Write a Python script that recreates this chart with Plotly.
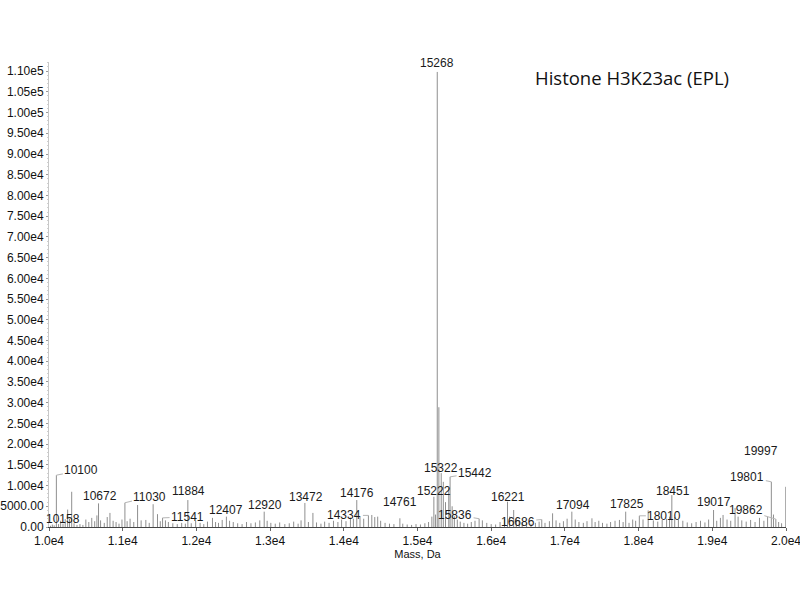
import plotly.graph_objects as go

# ---- data ----
MASS = [10020, 10045, 10070, 10100, 10130, 10158, 10190, 10220, 10253, 10278, 10308, 10340, 10380, 10420, 10460,
        10500, 10540, 10580, 10620, 10650, 10672, 10700, 10750, 10790, 10827, 10870, 10910, 10950, 10990, 11030,
        11060, 11100, 11150, 11202, 11250, 11314, 11360, 11413, 11472, 11510, 11541, 11580, 11620, 11680, 11740,
        11800, 11850, 11884, 11930, 11990, 12050, 12100, 12150, 12218, 12260, 12300, 12350, 12407, 12450, 12500,
        12560, 12620, 12680, 12740, 12800, 12860, 12920, 12960, 13010, 13070, 13130, 13200, 13260, 13320, 13380,
        13420, 13472, 13520, 13581, 13630, 13690, 13740, 13800, 13860, 13920, 13970, 14030, 14090, 14130, 14176,
        14220, 14270, 14334, 14380, 14420, 14460, 14500, 14560, 14620, 14680, 14761, 14800, 14860, 14920, 14980,
        15040, 15100, 15150, 15195, 15222, 15245, 15268, 15290, 15322, 15350, 15380, 15424, 15442, 15470, 15500,
        15540, 15580, 15630, 15680, 15730, 15780, 15836, 15880, 15940, 16000, 16060, 16120, 16180, 16221, 16250,
        16305, 16340, 16380, 16420, 16480, 16540, 16600, 16650, 16686, 16730, 16790, 16833, 16880, 16930, 16980,
        17030, 17094, 17140, 17190, 17250, 17300, 17367, 17410, 17460, 17510, 17570, 17620, 17680, 17740, 17790,
        17825, 17870, 17920, 17960, 18010, 18060, 18130, 18200, 18260, 18320, 18380, 18420, 18451, 18490, 18540,
        18600, 18660, 18720, 18780, 18840, 18900, 18950, 19017, 19060, 19110, 19146, 19200, 19250, 19309, 19350,
        19400, 19460, 19520, 19580, 19640, 19700, 19750, 19801, 19830, 19862, 19900, 19940, 19997]
INTENSITY = [300, 600, 400, 12500, 700, 1500, 800, 1900, 4200, 2000, 8500, 900, 500, 700, 500,
             1800, 1200, 2200, 1400, 2800, 5700, 1600, 1000, 2400, 3400, 1500, 1200, 800, 1800, 5850,
             1400, 2000, 1200, 5300, 1600, 1700, 1000, 5500, 3100, 1400, 2200, 1600, 1200, 900, 700,
             1000, 800, 6500, 900, 1500, 1000, 700, 1300, 2200, 1200, 1000, 1700, 2500, 1500, 1200,
             900, 700, 1200, 900, 1100, 1600, 3700, 1500, 1000, 800, 1100, 700, 900, 1300, 800,
             1600, 5800, 1200, 3400, 1100, 800, 1300, 1000, 1500, 1200, 1800, 1400, 2300, 2000, 6500,
             2500, 2000, 2800, 2900, 2400, 2500, 1500, 1000, 800, 700, 2100, 800, 600, 500, 700,
             600, 900, 1200, 2500, 7300, 3000, 109800, 28900, 13000, 10900, 6000, 9400, 12100, 5000, 2600,
             1800, 1300, 1000, 800, 1200, 1500, 2000, 1600, 1000, 700, 600, 1200, 2000, 6100, 2500,
             4100, 2000, 1600, 1200, 1000, 800, 1000, 1300, 1800, 1000, 1400, 3300, 1600, 1000, 1400,
             2000, 3700, 1800, 1200, 1000, 1400, 2100, 1200, 1500, 1000, 800, 1200, 1500, 1700, 1200,
             3700, 1000, 1800, 1500, 2700, 1800, 4000, 1600, 1300, 1700, 2000, 2500, 7700, 2400, 1800,
             1500, 1100, 900, 1200, 1500, 1100, 1800, 4100, 1500, 2200, 2900, 1800, 1500, 4600, 2500,
             1600, 1300, 1700, 1200, 2200, 1500, 2400, 10900, 3000, 1900, 1200, 900, 9700]

LABELED_MASSES = [10100, 10158, 10672, 11030, 11541, 11884, 12407, 12920, 13472, 14176, 14334, 14761,
                  15222, 15268, 15322, 15442, 15836, 16221, 16686, 17094, 17825, 18010, 18451, 19017,
                  19801, 19862, 19997]

X_TICKS = [10000, 11000, 12000, 13000, 14000, 15000, 16000, 17000, 18000, 19000, 20000]
X_TICK_TEXT = ["1.0e4", "1.1e4", "1.2e4", "1.3e4", "1.4e4", "1.5e4", "1.6e4", "1.7e4", "1.8e4", "1.9e4", "2.0e4"]
Y_TICKS = [0, 5000, 10000, 15000, 20000, 25000, 30000, 35000, 40000, 45000, 50000, 55000, 60000,
           65000, 70000, 75000, 80000, 85000, 90000, 95000, 100000, 105000, 110000]
Y_TICK_TEXT = ["0.00", "5000.00", "1.00e4", "1.50e4", "2.00e4", "2.50e4", "3.00e4", "3.50e4", "4.00e4",
               "4.50e4", "5.00e4", "5.50e4", "6.00e4", "6.50e4", "7.00e4", "7.50e4", "8.00e4", "8.50e4",
               "9.00e4", "9.50e4", "1.00e5", "1.05e5", "1.10e5"]

TITLE = "Histone H3K23ac (EPL)"
X_TITLE = "Mass, Da"

# ---- label placement (pixel offsets of label centre from peak top; leader line flag) ----
LABEL_STYLE = {
    15268: (0, -9, False), 10100: (25, -5, True), 10158: (2, -2, False), 10672: (1, -7, False),
    11030: (25, -6, True), 11541: (25, -1, True), 11884: (1, -9, False), 12407: (0, -7, False),
    12920: (1, -7, False), 13472: (1, -6, False), 14176: (0, -7, False), 14334: (-24, 0, True),
    14761: (0, -16, False), 15222: (0, -6, False), 15322: (0, -5, False), 15442: (25, -4, True),
    15836: (-24, -4, True), 16221: (1, -5, False), 16686: (-24, 2, True), 17094: (1, -7, False),
    17825: (1, -8, False), 18010: (25, 0, True), 18451: (1, -4, False), 19017: (0, -8, False),
    19862: (-30, -9, True), 19801: (-24, -5, True), 19997: (-25, -36, False),
}

# ---- build stick spectrum ----
xs, ys = [], []
for m, h in zip(MASS, INTENSITY):
    xs += [m, m, None]
    ys += [0, h, None]

fig = go.Figure()
fig.add_trace(go.Scatter(x=xs, y=ys, mode="lines",
                         line=dict(color="#8f8f8f", width=1),
                         hoverinfo="skip", showlegend=False))

height_of = dict(zip(MASS, INTENSITY))
annotations = []
lab_font = dict(family="Liberation Sans, Arial, sans-serif", size=12, color="#1a1a1a")
for m in LABELED_MASSES:
    dx, dy, leader = LABEL_STYLE[m]
    h = height_of[m]
    if leader:
        annotations.append(dict(x=m, y=h, xref="x", yref="y", text=str(m), showarrow=True,
                                ax=dx, ay=dy, arrowhead=0, arrowwidth=1, arrowcolor="#b5b5b5",
                                standoff=0, font=lab_font))
    else:
        annotations.append(dict(x=m, y=h, xref="x", yref="y", text=str(m), showarrow=False,
                                xshift=dx, yshift=-dy, xanchor="center", yanchor="middle",
                                font=lab_font))

annotations.append(dict(x=0.791, y=0.966, xref="paper", yref="paper", text=TITLE, showarrow=False,
                        xanchor="center", yanchor="middle",
                        font=dict(family="Open Sans, sans-serif", size=18.5, color="#111111")))

fig.update_layout(
    width=800, height=600,
    margin=dict(l=49, r=14, t=62, b=73),
    paper_bgcolor="white", plot_bgcolor="white",
    annotations=annotations,
    xaxis=dict(range=[10000, 20000], tickvals=X_TICKS, ticktext=X_TICK_TEXT, automargin=False,
               ticklabeloverflow="allow",
               showgrid=False, zeroline=False, showline=True, linecolor="#444444", linewidth=1,
               ticks="outside", ticklen=3, tickcolor="#666666",
               tickfont=dict(family="Liberation Sans, Arial, sans-serif", size=12, color="#111111"),
               title=dict(text=X_TITLE, standoff=2,
                          font=dict(family="Liberation Sans, Arial, sans-serif", size=11, color="#111111"))),
    yaxis=dict(range=[0, 112200], tickvals=Y_TICKS, ticktext=Y_TICK_TEXT, automargin=False,
               ticklabeloverflow="allow",
               showgrid=False, zeroline=False, showline=True, linecolor="#c8c8c8", linewidth=1,
               ticks="outside", ticklen=2, tickcolor="#9a9a9a",
               minor=dict(ticks="outside", ticklen=1, dtick=1000, tickcolor="#d0d0d0"),
               tickfont=dict(family="Liberation Sans, Arial, sans-serif", size=12, color="#111111")),
)

fig.write_html("out.html", post_script="document.body.style.margin='0';",
               config={"displayModeBar": False})
